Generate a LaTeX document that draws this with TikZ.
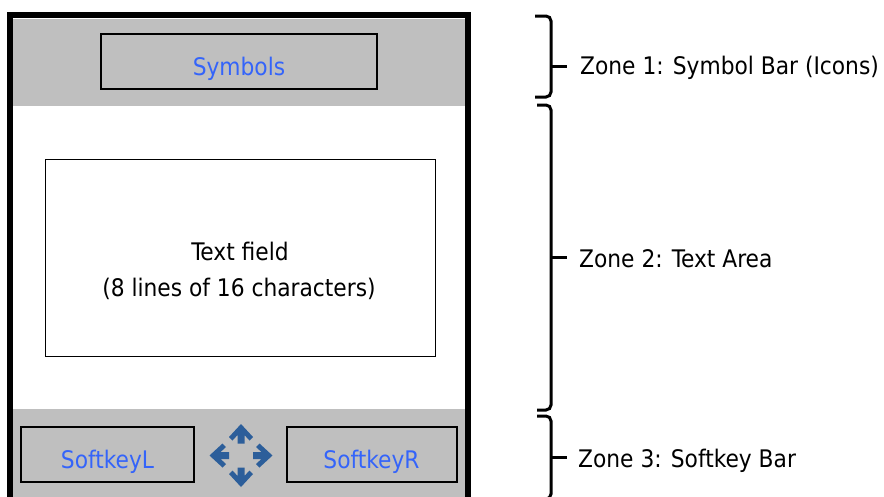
\documentclass[tikz,border=0pt]{standalone}
\usepackage{fontspec}
\setmainfont{DejaVu Sans Condensed}
\definecolor{zonegray}{HTML}{BFBFBF}
\definecolor{labelblue}{RGB}{52,100,250}
\definecolor{navblue}{RGB}{44,94,154}
\tikzset{
  lbl/.style={font=\fontsize{24.2}{29}\selectfont, inner sep=0pt},
  keybox/.style={draw=black, line width=1.3pt, fill=zonegray},
  bracestyle/.style={line width=3pt, rounded corners=5pt},
  navarrow/.style={fill=navblue, draw=none}
}
\begin{document}
\begin{tikzpicture}[x=1pt,y=-1pt]
\useasboundingbox (0,0) rectangle (884,496);
\clip (0,0) rectangle (884,496);
% zones
\fill[zonegray] (13,19) rectangle (465,106);
\fill[white] (13,106) rectangle (465,409);
\fill[zonegray] (13,409) rectangle (465,500);
% frame
\draw[line width=6pt] (10,505) -- (10,15) -- (468,15) -- (468,505);
% symbol box
\draw[keybox] (101,34) rectangle (377,89);
\node[lbl, text=labelblue, anchor=base] (sym) at (239,75) {Symbols};
% text field
\draw[line width=1pt, fill=white] (45,159) rectangle (435,356);
\node[lbl, anchor=base] (tf1) at (240,260) {Text field};
\node[lbl, anchor=base] (tf2) at (239,296) {(8 lines of 16 characters)};
% softkeys
\draw[keybox] (21,427) rectangle (194,482);
\node[lbl, text=labelblue, anchor=base] (skl) at (107.5,468) {SoftkeyL};
\draw[keybox] (287,427) rectangle (457,482);
\node[lbl, text=labelblue, anchor=base] (skr) at (371.5,468) {SoftkeyR};
% navigation arrows
\foreach \a in {0,90,180,270}{
  \begin{scope}[shift={(241,455.5)}, rotate=\a]
    \fill[navarrow] (0,-31.5) -- (12,-18.5) -- (8.5,-15) -- (3.5,-20.4) -- (3.5,-12)
      -- (-3.5,-12) -- (-3.5,-20.4) -- (-8.5,-15) -- (-12,-18.5) -- cycle;
  \end{scope}
}
% braces
\draw[bracestyle] (535,16) -- (551,16) -- (551,97) -- (535,97);
\draw[line width=3pt] (551,66) -- (567,66);
\draw[bracestyle] (537,105) -- (551,105) -- (551,410) -- (537,410);
\draw[line width=3pt] (551,257) -- (567,257);
\draw[bracestyle] (537,416) -- (551,416) -- (551,499) -- (537,499);
\draw[line width=3pt] (551,457) -- (567,457);
% zone labels
\node[lbl, anchor=base west] (z1) at (580,74) {Zone 1: Symbol Bar (Icons)};
\node[lbl, anchor=base west] (z2) at (579,267) {Zone 2: Text Area};
\node[lbl, anchor=base west] (z3) at (578,467) {Zone 3: Softkey Bar};
\end{tikzpicture}
\end{document}
